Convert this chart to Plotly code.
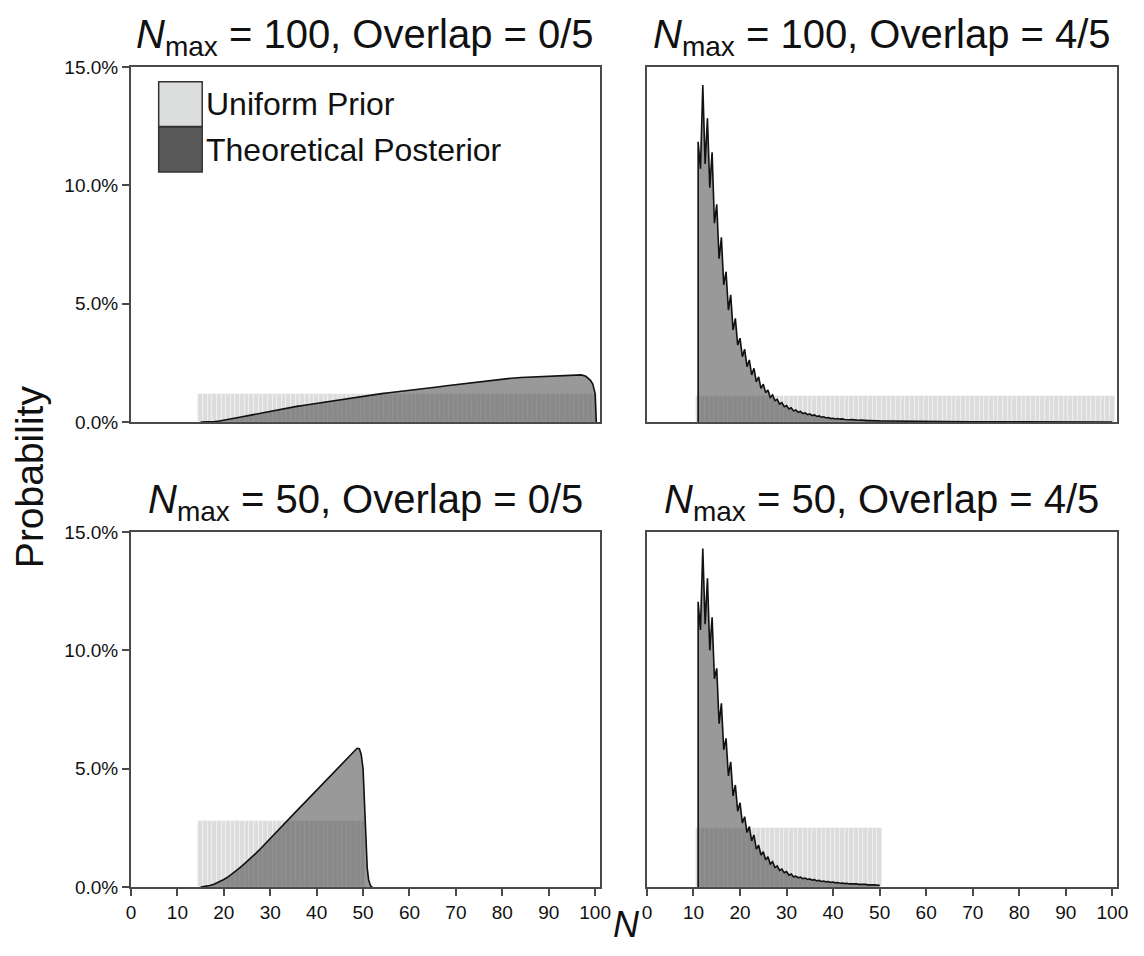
import plotly.graph_objects as go
from plotly.subplots import make_subplots

# ---------------- data (probabilities in %) ----------------
x_ticks = [0, 10, 20, 30, 40, 50, 60, 70, 80, 90, 100]
y_ticks = [0, 5, 10, 15]
y_tick_labels = ["0.0%", "5.0%", "10.0%", "15.0%"]
titles = ["<i>N</i><sub>max</sub> = 100, Overlap = 0/5",
          "<i>N</i><sub>max</sub> = 100, Overlap = 4/5",
          "<i>N</i><sub>max</sub> = 50, Overlap = 0/5",
          "<i>N</i><sub>max</sub> = 50, Overlap = 4/5"]
legend_labels = ["Uniform Prior", "Theoretical Posterior"]

# uniform priors: support and level
prior_tl_N = list(range(15, 101)); prior_tl_level = 1.163
prior_tr_N = list(range(11, 101)); prior_tr_level = 1.111
prior_bl_N = list(range(15, 51));  prior_bl_level = 2.778
prior_br_N = list(range(11, 51));  prior_br_level = 2.5

# posterior, Nmax=100, overlap 0/5
post_tl_N = [15, 17, 18, 19, 20, 21, 22, 23, 24, 25, 26, 27, 28, 29, 30, 31, 32, 33, 34, 35,
             36, 37, 38, 39, 40, 42, 44, 46, 48, 50, 52, 54, 56, 58, 60, 62, 64, 66, 68, 70,
             72, 74, 76, 78, 80, 82, 84, 86, 88, 90, 92, 94, 96, 97, 98, 98.5, 99, 99.5,
             99.9, 100, 100.25]
post_tl_p = [0, 0.0, 0.02, 0.04, 0.07, 0.10, 0.14, 0.18, 0.22, 0.26, 0.30, 0.33, 0.37, 0.41,
             0.45, 0.49, 0.54, 0.58, 0.61, 0.64, 0.67, 0.70, 0.73, 0.76, 0.79, 0.84, 0.90,
             0.96, 1.02, 1.11, 1.16, 1.20, 1.25, 1.29, 1.34, 1.39, 1.43, 1.48, 1.53, 1.58,
             1.63, 1.67, 1.72, 1.77, 1.82, 1.85, 1.88, 1.90, 1.92, 1.94, 1.96, 1.97, 1.99,
             1.99, 1.93, 1.86, 1.76, 1.60, 1.35, 1.20, 0.0]

# posterior, Nmax=50, overlap 0/5
post_bl_N = [15, 16, 17, 18, 19, 20, 21, 22, 23, 24, 25, 26, 27, 28, 29, 30, 31, 32, 33, 34,
             35, 36, 37, 38, 39, 40, 41, 42, 43, 44, 45, 46, 47, 48, 48.7, 49.2, 49.6, 50.0,
             50.3, 50.6, 50.9, 51.2, 51.6, 52]
post_bl_p = [0, 0.02, 0.06, 0.13, 0.22, 0.32, 0.44, 0.58, 0.74, 0.90, 1.07, 1.25, 1.44, 1.64,
             1.85, 2.06, 2.27, 2.48, 2.68, 2.88, 3.08, 3.28, 3.48, 3.68, 3.88, 4.08, 4.29,
             4.49, 4.69, 4.89, 5.09, 5.30, 5.50, 5.70, 5.86, 5.84, 5.60, 5.00, 3.80, 2.00,
             0.80, 0.30, 0.05, 0.0]

# posterior, Nmax=100, overlap 4/5 : values at integer N (peaks) and between (troughs)
post_tr_N = list(range(11, 51))
post_tr_peak = [11.84, 14.24, 12.83, 11.40, 9.20, 7.80, 6.35, 5.37, 4.38, 3.54,
                3.07, 2.62, 2.27, 1.91, 1.60, 1.35, 1.14, 0.96, 0.82, 0.70,
                0.60, 0.51, 0.45, 0.39, 0.34, 0.30, 0.26, 0.22, 0.19, 0.16,
                0.145, 0.13, 0.115, 0.10, 0.09, 0.08, 0.07, 0.06, 0.055, 0.05]
post_tr_trough = [10.70, 10.90, 9.90, 8.40, 6.90, 5.79, 4.73, 3.89, 3.25, 2.76,
                  2.34, 1.99, 1.70, 1.42, 1.24, 1.04, 0.90, 0.76, 0.65, 0.55,
                  0.47, 0.41, 0.36, 0.31, 0.27, 0.235, 0.20, 0.17, 0.145, 0.13,
                  0.12, 0.105, 0.095, 0.085, 0.075, 0.065, 0.058, 0.052, 0.048, 0.045]
post_tr_tail_N = [52, 55, 60, 65, 70, 80, 90, 100]
post_tr_tail_p = [0.04, 0.03, 0.02, 0.012, 0.008, 0.004, 0.002, 0.001]

# posterior, Nmax=50, overlap 4/5
post_br_N = list(range(11, 51))
post_br_peak = [12.05, 14.30, 13.04, 11.40, 9.24, 7.76, 6.28, 5.29, 4.31, 3.56,
                2.97, 2.55, 2.20, 1.77, 1.49, 1.28, 1.07, 0.89, 0.76, 0.65,
                0.55, 0.46, 0.42, 0.38, 0.34, 0.31, 0.28, 0.25, 0.23, 0.21,
                0.19, 0.17, 0.155, 0.14, 0.13, 0.12, 0.11, 0.10, 0.09, 0.08]
post_br_trough = [10.86, 11.10, 10.00, 8.80, 6.90, 5.80, 4.70, 3.85, 3.20, 2.70,
                  2.30, 1.95, 1.60, 1.35, 1.15, 0.97, 0.82, 0.70, 0.60, 0.50,
                  0.43, 0.39, 0.35, 0.32, 0.29, 0.26, 0.235, 0.215, 0.195, 0.175,
                  0.16, 0.145, 0.13, 0.12, 0.11, 0.10, 0.09, 0.085, 0.075]

# ---------------- styling ----------------
FONT = "Liberation Sans, Arial, Helvetica, sans-serif"
PRIOR_COLOR = "#dcdcdc"
POST_FILL = "rgba(70,70,70,0.55)"
AX_COLOR = "#4a4a4a"

OFF = 8                      # page body margin of the written html (each side)
W, H = 1144 - 2 * OFF, 956 - 2 * OFF
PL, PR, PT, PB = 131, 1128, 67, 887     # plot block in page pixels
ML, MR, MT, MB = PL - OFF, (OFF + W) - PR, PT - OFF, (OFF + H) - PB
PW, PH = PR - PL, PB - PT


def px_x(p):
    return (p - PL) / PW


def px_y(p):
    return (PB - p) / PH


fig = make_subplots(rows=2, cols=2)


def zigzag(Ns, peaks, troughs, tail_N=(), tail_p=()):
    xs, ys = [Ns[0]], [0.0]
    for i, n in enumerate(Ns):
        xs.append(n); ys.append(peaks[i])
        if i < len(troughs):
            xs.append(n + 0.5); ys.append(troughs[i])
    xs += list(tail_N); ys += list(tail_p)
    return xs, ys


panels = [
    (1, 1, prior_tl_N, prior_tl_level, post_tl_N, post_tl_p),
    (1, 2, prior_tr_N, prior_tr_level,
     *zigzag(post_tr_N, post_tr_peak, post_tr_trough, post_tr_tail_N, post_tr_tail_p)),
    (2, 1, prior_bl_N, prior_bl_level, post_bl_N, post_bl_p),
    (2, 2, prior_br_N, prior_br_level,
     *zigzag(post_br_N, post_br_peak, post_br_trough)),
]

for r, c, pN, plev, qx, qy in panels:
    fig.add_trace(go.Bar(x=pN, y=[plev] * len(pN), width=1,
                         marker=dict(color=PRIOR_COLOR,
                                     line=dict(color="rgba(245,245,245,0.9)", width=0.6)),
                         showlegend=False, hoverinfo="skip"), row=r, col=c)
    fig.add_trace(go.Scatter(x=qx, y=qy, mode="lines", fill="tozeroy",
                             fillcolor=POST_FILL,
                             line=dict(color="#111111", width=1.6),
                             showlegend=False, hoverinfo="skip"), row=r, col=c)

xl = [0, px_x(605)]
xr = [px_x(652.7), 1]
yt = [px_y(422), 1]
yb = [0, px_y(532)]

common_x = dict(range=[0, 101], showgrid=False, zeroline=False, showline=True,
                linecolor=AX_COLOR, linewidth=2, mirror=True,
                tickvals=x_ticks, tickfont=dict(family=FONT, size=19, color="#111"))
common_y = dict(range=[0, 15], showgrid=False, zeroline=False, showline=True,
                linecolor=AX_COLOR, linewidth=2, mirror=True,
                tickvals=y_ticks, ticktext=y_tick_labels,
                tickfont=dict(family=FONT, size=19, color="#111"))

fig.update_layout(
    xaxis=dict(common_x, domain=xl, showticklabels=False, ticks=""),
    xaxis2=dict(common_x, domain=xr, showticklabels=False, ticks=""),
    xaxis3=dict(common_x, domain=xl, ticks="outside", ticklen=7, tickwidth=2, tickcolor=AX_COLOR),
    xaxis4=dict(common_x, domain=xr, ticks="outside", ticklen=7, tickwidth=2, tickcolor=AX_COLOR),
    yaxis=dict(common_y, domain=yt, ticks="outside", ticklen=7, tickwidth=2, tickcolor=AX_COLOR),
    yaxis2=dict(common_y, domain=yt, showticklabels=False, ticks=""),
    yaxis3=dict(common_y, domain=yb, ticks="outside", ticklen=7, tickwidth=2, tickcolor=AX_COLOR),
    yaxis4=dict(common_y, domain=yb, showticklabels=False, ticks=""),
)

annotations = []
title_pos = [((131 + 605) / 2, 37), ((652.7 + 1128) / 2, 37),
             ((131 + 605) / 2, 502), ((652.7 + 1128) / 2, 502)]
for t, (tx, ty) in zip(titles, title_pos):
    annotations.append(dict(text=t, x=px_x(tx), y=px_y(ty), xref="paper", yref="paper",
                            xanchor="center", yanchor="middle", showarrow=False,
                            font=dict(family=FONT, size=40, color="#111")))
annotations.append(dict(text="Probability", x=px_x(28), y=px_y(477), xref="paper",
                        yref="paper", textangle=-90, showarrow=False,
                        xanchor="center", yanchor="middle",
                        font=dict(family=FONT, size=39, color="#111")))
annotations.append(dict(text="<i>N</i>", x=px_x(632), y=px_y(OFF + H - 1), xref="paper",
                        yref="paper", showarrow=False, xanchor="center", yanchor="bottom",
                        font=dict(family=FONT, size=36, color="#111")))

# legend drawn manually
shapes = []
sw = [(81.7, 126.5, "#dcdedd"), (127, 172, "#595959")]
for (y0, y1, col), lab in zip(sw, legend_labels):
    shapes.append(dict(type="rect", xref="paper", yref="paper",
                       x0=px_x(159), x1=px_x(203), y0=px_y(y1), y1=px_y(y0),
                       fillcolor=col, line=dict(color="#333", width=1.5)))
    annotations.append(dict(text=lab, x=px_x(205), y=px_y((y0 + y1) / 2), xref="paper",
                            yref="paper", xanchor="left", yanchor="middle", showarrow=False,
                            font=dict(family=FONT, size=32, color="#111")))

fig.update_layout(
    width=W, height=H, autosize=False, margin=dict(l=ML, r=MR, t=MT, b=MB),
    paper_bgcolor="white", plot_bgcolor="white",
    bargap=0, barmode="overlay", showlegend=False,
    annotations=annotations, shapes=shapes,
)

fig.write_html("out.html", config={"responsive": False})
